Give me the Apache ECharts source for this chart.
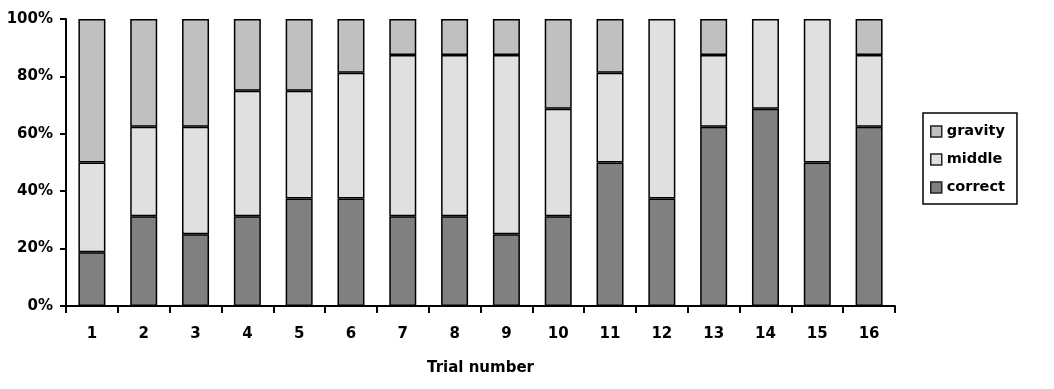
<!DOCTYPE html>
<html><head><meta charset="utf-8">
<script src="https://cdn.jsdelivr.net/npm/echarts@6/dist/echarts.min.js"></script>
<style>html,body{margin:0;padding:0;background:#fff}#c{width:1054px;height:389px}</style>
</head><body><div id="c"></div>
<script>
const categories = ['1','2','3','4','5','6','7','8','9','10','11','12','13','14','15','16'];
const correct = [18.75,31.25,25,31.25,37.5,37.5,31.25,31.25,25,31.25,50,37.5,62.5,68.75,50,62.5];
const middle  = [31.25,31.25,37.5,43.75,37.5,43.75,56.25,56.25,62.5,37.5,31.25,62.5,25,31.25,50,25];
const gravity = [50,37.5,37.5,25,25,18.75,12.5,12.5,12.5,31.25,18.75,0,12.5,0,0,12.5];
const yTicks = [0,20,40,60,80,100];

const font = '"DejaVu Sans", Verdana, sans-serif';
const chart = echarts.init(document.getElementById('c'), null, {renderer:'canvas'});
function ser(name, data, color){
  return {name, type:'bar', stack:'s', data: data.map(v => v === 0 ? null : v), barWidth:27,
    itemStyle:{color, borderColor:'#000', borderWidth:1.5},
    emphasis:{disabled:true}};
}
chart.setOption({
  animation:false,
  grid:{left:66, right:159, top:19, bottom:83},
  legend:{
    data:['gravity','middle','correct'], orient:'vertical',
    left:923, top:113, width:94,
    icon:'rect', itemWidth:11, itemHeight:11, itemGap:13,
    borderColor:'#000', borderWidth:1.5, padding:[11,12,9,7],
    textStyle:{fontFamily:font, fontWeight:'bold', fontSize:14.5, color:'#000', padding:[0,0,0,0]},
    itemStyle:{borderColor:'#222', borderWidth:1.5}
  },
  xAxis:{type:'category', data:categories,
    name:'Trial number', nameLocation:'middle', nameGap:55,
    nameTextStyle:{fontFamily:font, fontWeight:'bold', fontSize:15, color:'#000'},
    axisLine:{lineStyle:{color:'#000', width:2}},
    axisTick:{show:true, length:7, lineStyle:{color:'#000', width:2}},
    axisLabel:{fontFamily:font, fontWeight:'bold', fontSize:15, color:'#000', margin:21}
  },
  yAxis:{type:'value', min:0, max:100, interval:20,
    axisLine:{show:true, lineStyle:{color:'#000', width:2}},
    axisTick:{show:true, length:6, lineStyle:{color:'#000', width:2}},
    splitLine:{show:false},
    axisLabel:{fontFamily:font, fontWeight:'bold', fontSize:15, color:'#000', margin:13,
      formatter:v=> yTicks.includes(v) ? v+'%' : ''}
  },
  series:[
    ser('correct', correct, '#808080'),
    ser('middle', middle, '#e0e0e0'),
    ser('gravity', gravity, '#c0c0c0')
  ]
});
</script></body></html>
